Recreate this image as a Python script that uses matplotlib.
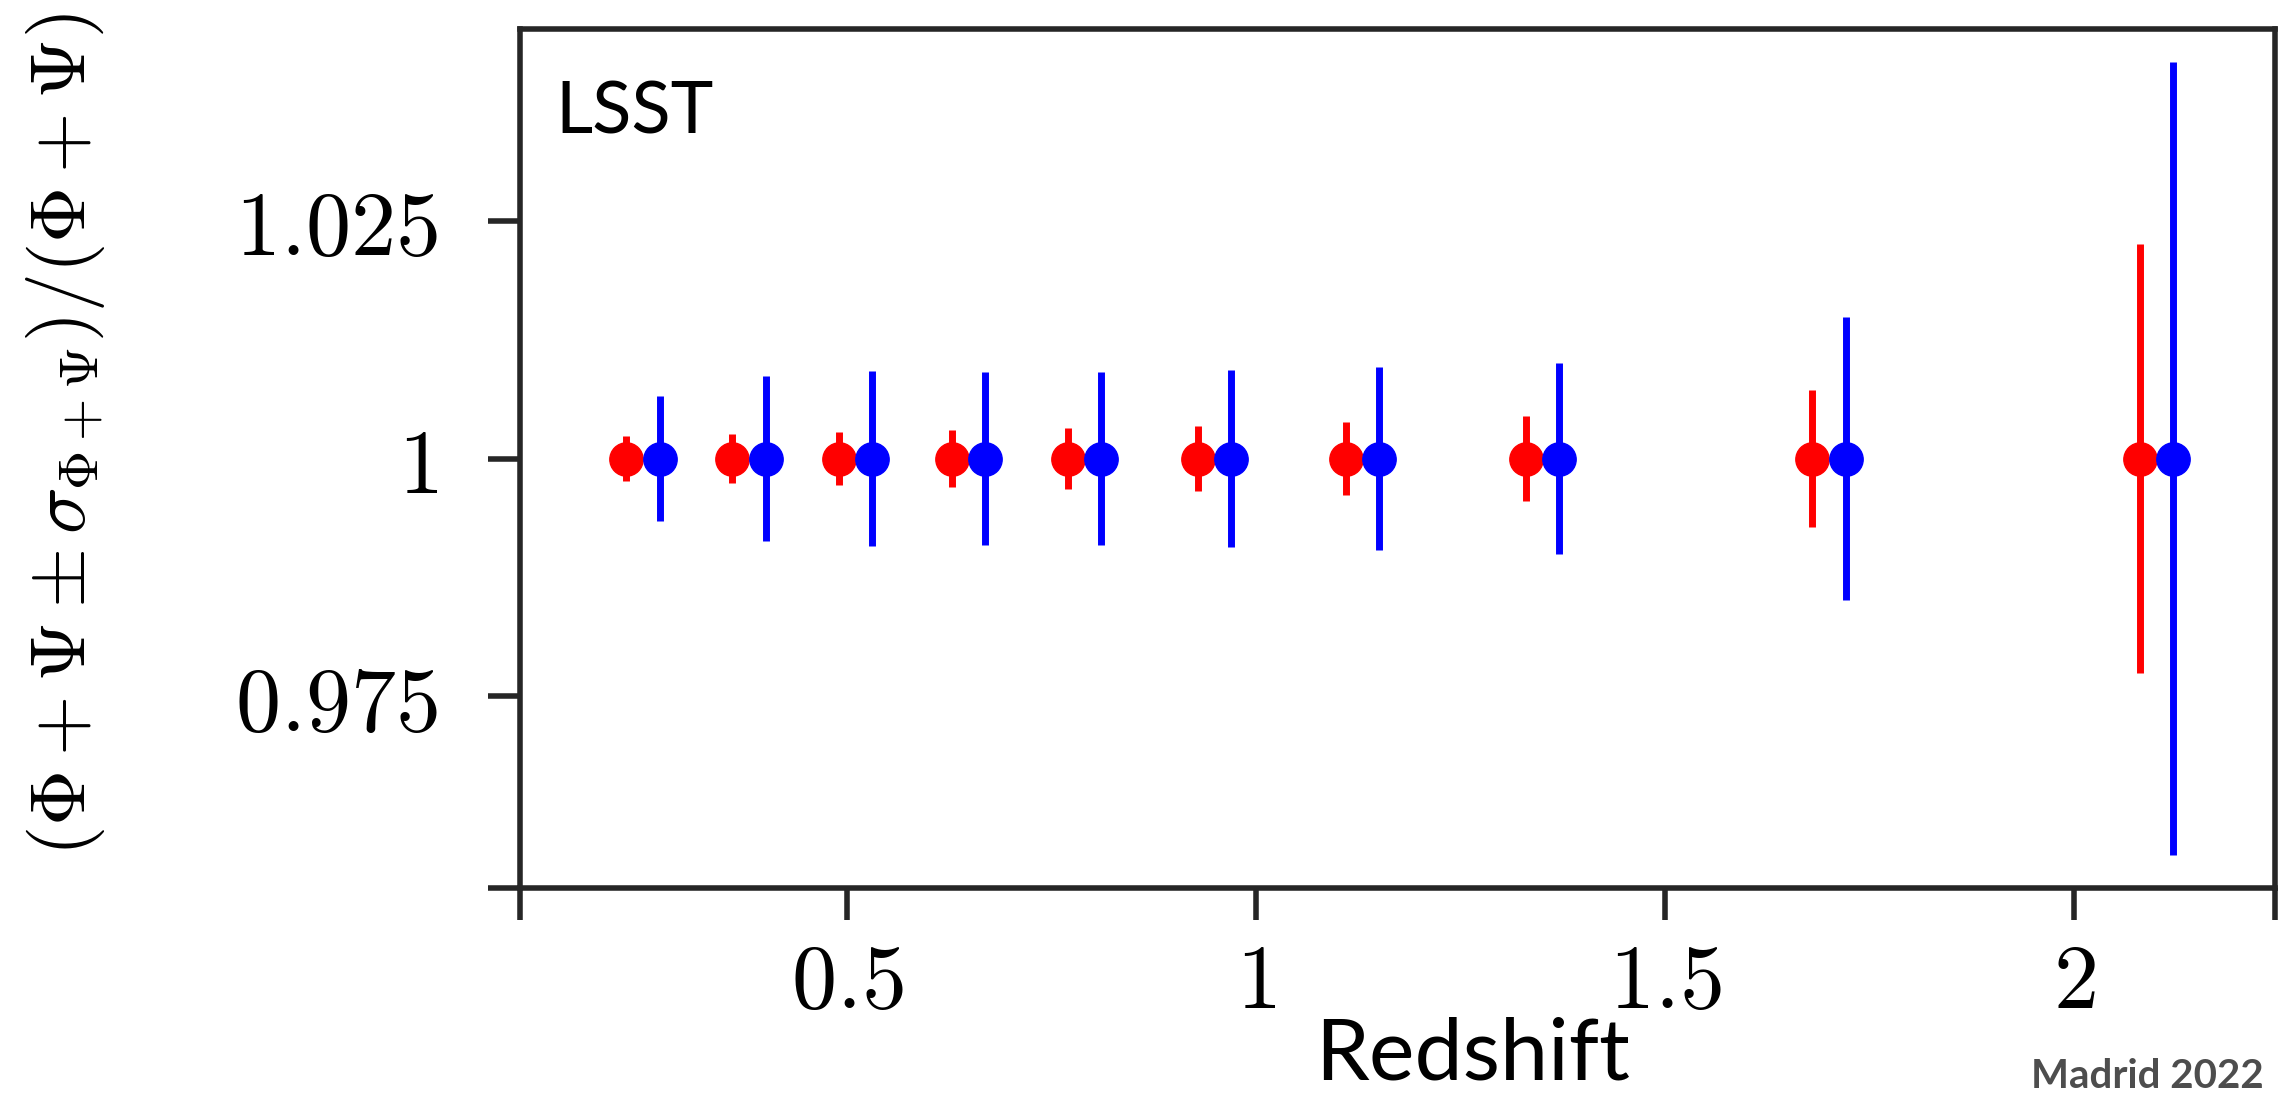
import matplotlib
matplotlib.use("Agg")
import matplotlib.pyplot as plt
import numpy as np

# redshift bins and relative errors
z_bins = [0.25, 0.38, 0.51, 0.648, 0.79, 0.949, 1.13, 1.35, 1.70, 2.10]
err_red = [0.00237, 0.0026, 0.00284, 0.0030, 0.0032, 0.00344, 0.00386, 0.00443, 0.00724, 0.02255]
err_blue = [0.0066, 0.0087, 0.00916, 0.00907, 0.00914, 0.0093, 0.00965, 0.0101, 0.0149, 0.0417]
ratio = [1.0] * len(z_bins)

ytick_vals = [0.9548, 0.975, 1.0, 1.025]
ytick_labels = ['', '$0.975$', '$1$', '$1.025$']
xtick_vals = [0.1, 0.5, 1.0, 1.5, 2.0, 2.245]
xtick_labels = ['', '$0.5$', '$1$', '$1.5$', '$2$', '']

plt.rcParams['mathtext.fontset'] = 'cm'
dark = '#262626'

fig = plt.figure(figsize=(22.82, 10.99), dpi=100)
ax = fig.add_axes([0.2279, 0.192, 0.769, 0.7816])

z = np.array(z_bins)
dz = 0.0205
ax.errorbar(z - dz, ratio, yerr=err_red, fmt='o', color='red', ms=24,
            elinewidth=5, capsize=0)
ax.errorbar(z + dz, ratio, yerr=err_blue, fmt='o', color='blue', ms=24,
            elinewidth=5, capsize=0)

ax.set_xlim(0.1, 2.245)
ax.set_ylim(0.9548, 1.0452)
ax.set_yticks(ytick_vals)
ax.set_yticklabels(ytick_labels)
ax.set_xticks(xtick_vals)
ax.set_xticklabels(xtick_labels)

for s in ax.spines.values():
    s.set_linewidth(4)
    s.set_color(dark)
ax.tick_params(axis='both', direction='out', length=23, width=4, color=dark,
               labelsize=65, labelcolor='black')
ax.tick_params(axis='y', pad=36)
ax.tick_params(axis='x', pad=14)

fig.text(0.0285, 0.605, r'$(\Phi+\Psi\pm\sigma_{\Phi+\Psi})/(\Phi+\Psi)$',
         rotation=90, ha='center', va='center', fontsize=56)
fig.text(0.6455, 0.04, 'Redshift', ha='center', va='center',
         fontsize=62, family='Lato')
ax.text(0.02, 0.94, 'LSST', transform=ax.transAxes, ha='left', va='top',
        fontsize=52, family='Lato')
fig.text(0.992, 0.004, 'Madrid 2022', ha='right', va='bottom',
         fontsize=29, family='Lato', weight='bold', color='#4d4d4d')

fig.savefig('out.png', dpi=100)
